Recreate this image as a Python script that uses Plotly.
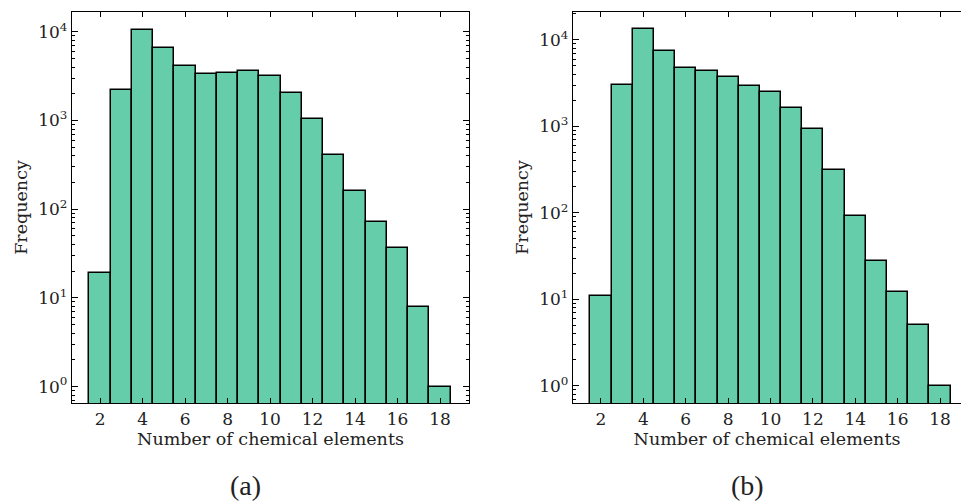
import plotly.graph_objects as go

elements = list(range(2, 19))
freq_a = [19, 2200, 10500, 6600, 4150, 3350, 3450, 3650, 3150, 2030, 1045, 412, 159, 71, 37, 8, 1]
freq_b = [11, 3000, 13300, 7450, 4700, 4350, 3700, 2920, 2520, 1610, 940, 315, 92, 28, 12, 5, 1]

x_ticks = [2, 4, 6, 8, 10, 12, 14, 16, 18]
y_tickvals = [1, 10, 100, 1000, 10000]
y_ticktext = ["10<sup>0</sup>", "10<sup>1</sup>", "10<sup>2</sup>", "10<sup>3</sup>", "10<sup>4</sup>"]
captions = ["(a)", "(b)"]

FILL = "#66CDAA"
FONT = "DejaVu Serif"
W, H = 961, 501

fig = go.Figure()
fig.add_trace(go.Bar(x=elements, y=freq_a, width=1, xaxis="x", yaxis="y",
                     marker=dict(color=FILL, line=dict(color="black", width=1.5)),
                     showlegend=False))
fig.add_trace(go.Bar(x=elements, y=freq_b, width=1, xaxis="x2", yaxis="y2",
                     marker=dict(color=FILL, line=dict(color="black", width=1.5)),
                     showlegend=False))

ydom = [1 - 403 / H, 1 - 12 / H]

common_x = dict(tickvals=x_ticks, ticks="inside", ticklen=5, tickwidth=1, tickcolor="black",
                showline=True, linecolor="black", linewidth=1.3, mirror="ticks",
                showgrid=False, zeroline=False,
                tickfont=dict(family=FONT, size=17, color="#222"),
                title=dict(text="Number of chemical elements",
                           font=dict(family=FONT, size=17.5, color="#222"), standoff=4))
common_y = dict(type="log", tickvals=y_tickvals, ticktext=y_ticktext,
                ticks="inside", ticklen=6, tickwidth=1, tickcolor="black",
                minor=dict(ticks="inside", ticklen=3, tickwidth=1, tickcolor="black", dtick="D1"),
                showline=True, linecolor="black", linewidth=1.3,
                showgrid=False, zeroline=False,
                tickfont=dict(family=FONT, size=17, color="#222"),
                title=dict(text="Frequency", font=dict(family=FONT, size=17.5, color="#222"), standoff=6))

fig.update_layout(
    width=W, height=H,
    margin=dict(l=0, r=0, t=0, b=0),
    paper_bgcolor="white", plot_bgcolor="white",
    bargap=0,
    xaxis=dict(domain=[72 / W, 469 / W], range=[0.68, 19.36], anchor="y", **common_x),
    yaxis=dict(domain=ydom, range=[-0.184, 4.222], anchor="x", mirror="ticks", **common_y),
    xaxis2=dict(domain=[573 / W, 1.0], range=[0.68, 18.99], anchor="y2", **common_x),
    yaxis2=dict(domain=ydom, range=[-0.2, 4.323], anchor="x2", mirror=False, **common_y),
)

for cap, xc in zip(captions, [245, 747]):
    fig.add_annotation(text=cap, x=xc / W, y=1 - 485 / H, xref="paper", yref="paper",
                       showarrow=False, font=dict(family="Liberation Serif", size=28, color="#222"),
                       xanchor="center", yanchor="middle")

fig.write_html("out.html", config={"displayModeBar": False},
               post_script="document.body.style.margin='0';document.body.style.overflow='hidden';")
